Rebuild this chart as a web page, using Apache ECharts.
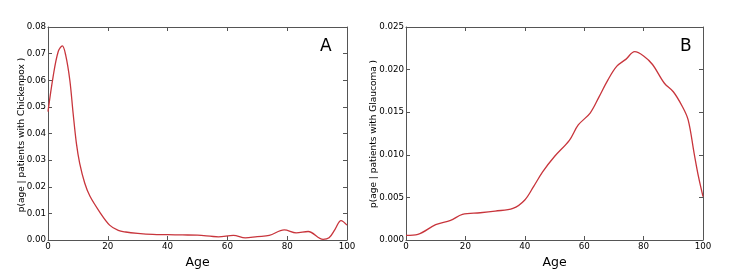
<!DOCTYPE html>
<html><head><meta charset="utf-8">
<script src="https://cdn.jsdelivr.net/npm/echarts@6/dist/echarts.min.js"></script>
<style>html,body{margin:0;padding:0;background:#fff}#c{width:747px;height:275px}</style>
</head><body><div id="c"></div>
<script>
const xTicks = [0, 20, 40, 60, 80, 100];
const ageA = [0, 1.7, 3.4, 4.8, 5.9, 7.3, 8.4, 9.5, 10.6, 12.3, 14, 17.3, 20.6, 23.5, 26, 30, 35, 40, 45, 50, 57, 62, 66, 70, 74, 79, 83, 87, 92, 94, 96, 98, 100];
const chickenpox = [0.0482, 0.0613, 0.0707, 0.0729, 0.0695, 0.060, 0.0476, 0.0363, 0.0288, 0.0213, 0.0165, 0.0105, 0.0056, 0.0036, 0.003, 0.0025, 0.0021, 0.002, 0.0019, 0.0018, 0.0012, 0.0017, 0.0008, 0.0013, 0.0017, 0.0038, 0.0027, 0.0032, 0.0002, 0.0008, 0.004, 0.0073, 0.0056];
const ageB = [0, 4, 10, 15, 19, 25, 30, 36, 40, 43, 46, 50, 55, 58, 62, 65, 68, 71, 74, 77, 80, 83, 87, 90, 93, 95, 97, 98.5, 100];
const glaucoma = [0.00055, 0.00067, 0.0018, 0.0023, 0.003, 0.0032, 0.0034, 0.0037, 0.0047, 0.0063, 0.008, 0.0098, 0.0117, 0.0135, 0.0149, 0.0168, 0.0188, 0.0204, 0.0212, 0.0221, 0.0216, 0.0206, 0.0184, 0.0174, 0.0157, 0.0141, 0.0102, 0.0074, 0.0051];
const yLabelA = 'p(age | patients with Chickenpox )';
const yLabelB = 'p(age | patients with Glaucoma )';
const xLabel = 'Age';
const panelA = 'A', panelB = 'B';

const font = 'DejaVu Sans';
const frame = '#555';
const lineColor = '#c8353c';
const tickStyle = {show: true, inside: true, length: 4, lineStyle: {color: frame}};
const lineStyleAxis = {show: true, onZero: false, lineStyle: {color: frame}};

function xAxes(g) {
  return [
    {type: 'value', gridIndex: g, min: 0, max: 100, interval: 20,
     name: xLabel, nameLocation: 'middle', nameGap: 12,
     nameTextStyle: {fontFamily: font, fontSize: 12.5, color: '#000'},
     axisLine: lineStyleAxis, axisTick: tickStyle,
     axisLabel: {fontFamily: font, fontSize: 8.7, color: '#000', margin: 2},
     splitLine: {show: false}},
    {type: 'value', gridIndex: g, position: 'top', min: 0, max: 100, interval: 20,
     axisLine: lineStyleAxis, axisTick: tickStyle,
     axisLabel: {show: false}, splitLine: {show: false}}
  ];
}
function yAxes(g, max, step, dec) {
  return [
    {type: 'value', gridIndex: g, min: 0, max: max, interval: step,
     axisLine: lineStyleAxis, axisTick: tickStyle,
     axisLabel: {fontFamily: font, fontSize: 8.7, color: '#000', margin: 2, formatter: v => v.toFixed(dec)},
     splitLine: {show: false}},
    {type: 'value', gridIndex: g, position: 'right', min: 0, max: max, interval: step,
     axisLine: lineStyleAxis, axisTick: tickStyle,
     axisLabel: {show: false}, splitLine: {show: false}}
  ];
}

const chart = echarts.init(document.getElementById('c'), null, {renderer: 'canvas'});
chart.setOption({
  animation: false,
  grid: [
    {left: 48, right: 400, top: 27, bottom: 35},
    {left: 406, right: 44, top: 27, bottom: 35}
  ],
  xAxis: [...xAxes(0), ...xAxes(1)],
  yAxis: [...yAxes(0, 0.08, 0.01, 2), ...yAxes(1, 0.025, 0.005, 3)],
  series: [
    {type: 'line', xAxisIndex: 0, yAxisIndex: 0, smooth: 0.35, showSymbol: false,
     lineStyle: {color: lineColor, width: 1.3}, data: ageA.map((a, i) => [a, chickenpox[i]])},
    {type: 'line', xAxisIndex: 2, yAxisIndex: 2, smooth: 0.35, showSymbol: false,
     lineStyle: {color: lineColor, width: 1.3}, data: ageB.map((a, i) => [a, glaucoma[i]])}
  ],
  graphic: [
    {type: 'text', x: 21.5, y: 135, rotation: Math.PI / 2,
     style: {text: yLabelA, font: '9px DejaVu Sans', fill: '#000', align: 'center', verticalAlign: 'middle'}},
    {type: 'text', x: 373.5, y: 134, rotation: Math.PI / 2,
     style: {text: yLabelB, font: '9px DejaVu Sans', fill: '#000', align: 'center', verticalAlign: 'middle'}},
    {type: 'text', left: 320, top: 38, style: {text: panelA, font: '17px DejaVu Sans', fill: '#000'}},
    {type: 'text', left: 680, top: 38, style: {text: panelB, font: '17px DejaVu Sans', fill: '#000'}}
  ]
});
</script></body></html>
